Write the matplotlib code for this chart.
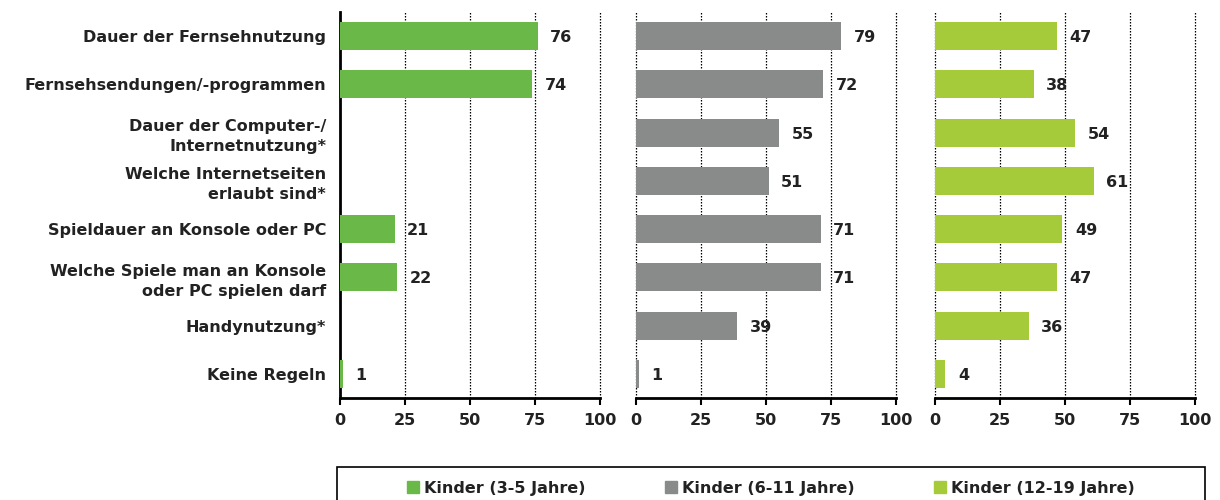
import matplotlib.pyplot as plt
import numpy as np

plt.rcParams['font.family'] = ['DejaVu Sans']
plt.rcParams['font.weight'] = 'bold'

kategorien = ["Dauer der Fernsehnutzung",
              "Fernsehsendungen/-programmen",
              "Dauer der Computer-/\nInternetnutzung*",
              "Welche Internetseiten\nerlaubt sind*",
              "Spieldauer an Konsole oder PC",
              "Welche Spiele man an Konsole\noder PC spielen darf",
              "Handynutzung*",
              "Keine Regeln"]

# None = nicht erhoben
kinder_3_5 = [76, 74, None, None, 21, 22, None, 1]
kinder_6_11 = [79, 72, 55, 51, 71, 71, 39, 1]
kinder_12_19 = [47, 38, 54, 61, 49, 47, 36, 4]

gruppen = ["Kinder (3-5 Jahre)", "Kinder (6-11 Jahre)", "Kinder (12-19 Jahre)"]
farben = ["#6ab847", "#898b8b", "#a6cb3a"]
reihen = [kinder_3_5, kinder_6_11, kinder_12_19]

fig = plt.figure(figsize=(12.2, 5), dpi=100)
links = [340, 636, 935]
fs = 11.5
textfarbe = "#222222"

y = np.arange(len(kategorien))
for k, (werte, farbe) in enumerate(zip(reihen, farben)):
    ax = fig.add_axes([links[k] / 1220, 0.204, 260 / 1220, 0.772])
    for i, w in enumerate(werte):
        if w is None:
            continue
        ax.barh(y[i], w, height=0.58, color=farbe, zorder=3)
        ax.annotate(str(w), xy=(w, y[i]), xytext=(9, -1), textcoords="offset points",
                    va="center", ha="left", fontsize=fs, fontweight="bold", color=textfarbe)
    ax.set_xlim(0, 100)
    ax.set_ylim(len(kategorien) - 0.5, -0.5)
    ax.set_xticks([0, 25, 50, 75, 100])
    ax.tick_params(axis="x", length=5, width=1.5, labelsize=fs, pad=6, labelcolor=textfarbe)
    for t in ax.get_xticklabels():
        t.set_fontweight("bold")
    for g in [25, 50, 75, 100]:
        ax.axvline(g, color="black", linestyle=(0, (1.2, 1.2)), linewidth=0.9, zorder=1, clip_on=False)
    ax.spines["top"].set_visible(False)
    ax.spines["right"].set_visible(False)
    ax.spines["bottom"].set_linewidth(2)
    if k == 0:
        ax.spines["left"].set_linewidth(2)
        ax.set_yticks(y)
        ax.set_yticklabels(kategorien, fontsize=fs, fontweight="bold", color=textfarbe,
                           linespacing=1.4)
        ax.tick_params(axis="y", length=0, pad=10)
    else:
        ax.spines["left"].set_visible(False)
        ax.axvline(0, color="black", linestyle=(0, (1.2, 1.2)), linewidth=0.9, zorder=1, clip_on=False)
        ax.set_yticks([])

# Rahmen der Legende
rahmen = plt.Rectangle((337 / 1220, -0.05), (1205 - 337) / 1220, 0.05 + 1 - 467 / 500,
                       transform=fig.transFigure, fill=False, edgecolor="black", linewidth=1.2)
fig.patches.append(rahmen)

handles = [plt.Rectangle((0, 0), 1, 1, color=f) for f in farben]
leg = fig.legend(handles, gruppen, loc="center", ncol=3,
                 bbox_to_anchor=(771 / 1220, 1 - 488 / 500),
                 frameon=False, prop={"size": fs, "weight": "bold"},
                 handlelength=0.75, handleheight=0.75, handletextpad=0.3,
                 columnspacing=5.0, borderpad=0)
for t in leg.get_texts():
    t.set_color(textfarbe)

fig.savefig("out.png", dpi=100)
